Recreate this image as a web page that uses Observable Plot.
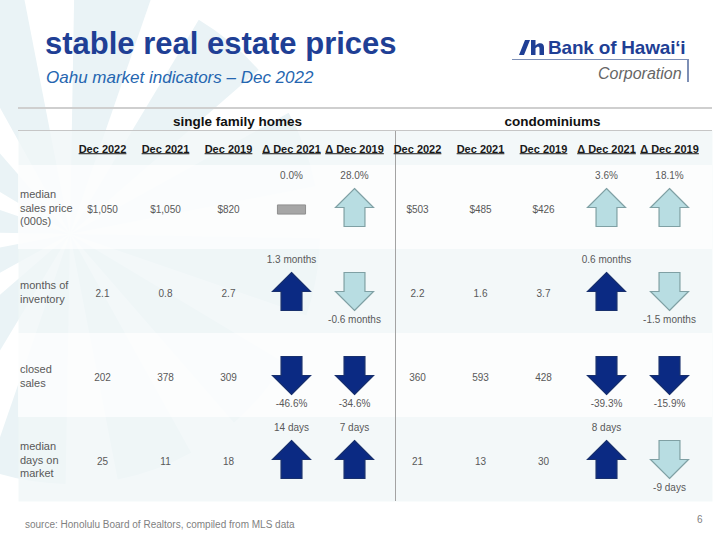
<!DOCTYPE html>
<html>
<head>
<meta charset="utf-8">
<script src="https://cdn.jsdelivr.net/npm/d3@7"></script>
<script src="https://cdn.jsdelivr.net/npm/@observablehq/plot@0.6"></script>
<style>
  body { margin: 0; background: #fff; }
  #slide { position: relative; width: 720px; height: 540px; overflow: hidden; background: #fff;
           font-family: "Liberation Sans", Arial, sans-serif; }
  .abs { position: absolute; white-space: nowrap; line-height: 1; }
  #title { left: 45px; top: 28px; font-size: 31px; font-weight: bold; color: #1f3f95; }
  #subtitle { left: 46px; top: 68.5px; font-size: 17px; font-style: italic; color: #2566b0; }
  #bank { left: 548px; top: 38px; font-size: 19px; font-weight: bold; color: #1f3f95; letter-spacing: -0.2px; }
  #corp { left: 598px; top: 65.5px; font-size: 16px; font-style: italic; color: #666; }
  #logoLineH { left: 512px; top: 59px; width: 176px; height: 1px; background: #7d8fb5; }
  #logoLineV { left: 687px; top: 59px; width: 1.5px; height: 23px; background: #7d8fb5; }
  #rule1 { left: 18px; top: 107px; width: 694px; height: 2px; background: #cfcfcf; z-index: 3; }
  #rule2 { left: 18px; top: 129.5px; width: 694px; height: 1.5px; background: #c6c6c6; z-index: 3; }
  #source { left: 25px; top: 519.5px; font-size: 10px; color: #7f7f7f; }
  #page { left: 697px; top: 515px; font-size: 10px; color: #7f7f7f; }
  #chart { position: absolute; left: 0; top: 100px; z-index: 2; }
  #watermark { position: absolute; left: 0; top: 0; z-index: 0; }
</style>
</head>
<body>
<div id="slide">
  <svg id="watermark" width="720" height="540"><g id="star" fill="#eaf3f6"></g></svg>
  <div class="abs" id="title">stable real estate prices</div>
  <div class="abs" id="subtitle">Oahu market indicators – Dec 2022</div>
  <svg class="abs" style="left:519px;top:39px" width="26" height="17" viewBox="0 0 26 17">
    <polygon points="0,16 5,16 11,1 6,1" fill="#1f3f95"></polygon>
    <path d="M12 1 h4.5 v5.5 c1.5-1.6 3.2-2.2 4.8-2.2 c2.6 0 3.7 1.6 3.7 4.3 v7.4 h-4.5 v-6.6 c0-1.2-0.5-1.7-1.4-1.7 c-1 0-1.9 0.7-2.6 1.6 v6.7 h-4.5 z" fill="#1f3f95"></path>
  </svg>
  <div class="abs" id="bank">Bank of Hawai‘i</div>
  <div class="abs" id="logoLineH"></div>
  <div class="abs" id="logoLineV"></div>
  <div class="abs" id="corp">Corporation</div>
  <div class="abs" id="rule1"></div>
  <div class="abs" id="rule2"></div>
  <div id="chart"></div>
  <div class="abs" id="source">source: Honolulu Board of Realtors, compiled from MLS data</div>
  <div class="abs" id="page">6</div>
</div>
<script>
// ---------------- data ----------------
const groups = ["single family homes", "condominiums"];
const columns = ["Dec 2022", "Dec 2021", "Dec 2019", "Δ Dec 2021", "Δ Dec 2019"];
const rowLabels = ["median\nsales price\n(000s)", "months of\ninventory", "closed\nsales", "median\ndays on\nmarket"];

// levels (rows: price $000s, months of inventory, closed sales, median days on market)
const sfhDec2022 = [1050, 2.1, 202, 25];
const sfhDec2021 = [1050, 0.8, 378, 11];
const sfhDec2019 = [820, 2.7, 309, 18];
const condoDec2022 = [503, 2.2, 360, 21];
const condoDec2021 = [485, 1.6, 593, 13];
const condoDec2019 = [426, 3.7, 428, 30];

// changes
const sfhChgVs2021 = [0.0, 1.3, -46.6, 14];
const sfhChgVs2019 = [28.0, -0.6, -34.6, 7];
const condoChgVs2021 = [3.6, 0.6, -39.3, 8];
const condoChgVs2019 = [18.1, -1.5, -15.9, -9];
const changeUnits = ["%", " months", "%", " days"];
const changeDecimals = [1, 1, 1, 0];
// direction of change that signals a softening market (drawn as dark arrow)
const softeningDirection = [-1, 1, -1, 1];

// ---------------- table build ----------------
const levelFormat = [v => "$" + d3.format(",")(v), d3.format(".1f"), d3.format("d"), d3.format("d")];
const key = (g, c) => g + "|" + c;
const xDomain = groups.flatMap(g => columns.map(c => key(g, c)));
const levelSeries = [[sfhDec2022, sfhDec2021, sfhDec2019], [condoDec2022, condoDec2021, condoDec2019]];
const changeSeries = [[sfhChgVs2021, sfhChgVs2019], [condoChgVs2021, condoChgVs2019]];
const levelCells = [], changeCells = [], headerCells = [];
groups.forEach((g, gi) => {
  columns.forEach(c => headerCells.push({x: key(g, c), text: c}));
  levelSeries[gi].forEach((series, ci) => series.forEach((v, ri) =>
    levelCells.push({x: key(g, columns[ci]), y: rowLabels[ri], text: levelFormat[ri](v)})));
  changeSeries[gi].forEach((series, ci) => series.forEach((v, ri) => {
    const dir = Math.sign(v);
    changeCells.push({
      x: key(g, columns[3 + ci]), y: rowLabels[ri], dir,
      tone: dir === 0 ? "flat" : dir === softeningDirection[ri] ? "dark" : "light",
      text: v.toFixed(changeDecimals[ri]) + changeUnits[ri]
    });
  }));
});
const groupHeaders = groups.map(g => ({x: key(g, columns[2]), text: g}));

// ---------------- symbols ----------------
const arrow = (up) => ({
  draw(ctx, size) {
    const r = Math.sqrt(size / Math.PI), s = 0.55 * r, k = up ? 1 : -1;
    ctx.moveTo(0, -r * k); ctx.lineTo(r, 0); ctx.lineTo(s, 0); ctx.lineTo(s, r * k);
    ctx.lineTo(-s, r * k); ctx.lineTo(-s, 0); ctx.lineTo(-r, 0); ctx.closePath();
  }
});
const flatBar = {
  draw(ctx, size) {
    const r = Math.sqrt(size / Math.PI), w = 0.74 * r, h = 0.24 * r;
    ctx.rect(-w, -h + 2, 2 * w, 2 * h);
  }
};
const DARK = "#0b2a83", DARK_STROKE = "#18306d", LIGHT = "#b8dde2", LIGHT_STROKE = "#7fa0a4";

const chart = Plot.plot({
  width: 720, height: 405,
  marginTop: 65, marginBottom: 4, marginLeft: 18, marginRight: 8,
  style: {background: "transparent", fontFamily: "'Liberation Sans', Arial, sans-serif", fontSize: "10px", overflow: "visible"},
  x: {type: "point", domain: xDomain, range: [102, 669], padding: 0, axis: null},
  y: {type: "band", domain: rowLabels, padding: 0, axis: null},
  marks: [
    Plot.frame({fill: "#f0f6f7", fillOpacity: 0.8, stroke: "none", insetTop: -35}),
    Plot.cell([rowLabels[0], rowLabels[2]], {y: d => d, fill: "white", fillOpacity: 0.7}),
    Plot.ruleX([key(groups[1], columns[0])], {x: d => d, dx: -22, insetTop: -35, stroke: "#a3a3a3", strokeWidth: 1}),
    Plot.text(groupHeaders, {x: "x", text: "text", frameAnchor: "top", lineAnchor: "middle", dy: -44, dx: 9,
      fontSize: 13.5, fontWeight: "bold", fill: "#111"}),
    Plot.text(headerCells, {x: "x", text: "text", frameAnchor: "top", lineAnchor: "middle", dy: -16,
      fontSize: 11, fontWeight: "bold", fill: "#1a1a1a"}),
    Plot.text(rowLabels, {y: d => d, text: d => d, frameAnchor: "left", textAnchor: "start", dx: 1.5,
      lineHeight: 1.23, fontSize: 11, fill: "#595959"}),
    Plot.text(levelCells, {x: "x", y: "y", text: "text", fontSize: 10, fill: "#595959", dy: 2}),
    Plot.dot(changeCells, {filter: d => d.tone === "flat", x: "x", y: "y", symbol: flatBar, r: 19,
      fill: "#a6a6a6", stroke: "#8f8f8f", strokeWidth: 1}),
    Plot.dot(changeCells, {filter: d => d.dir > 0 && d.tone === "dark", x: "x", y: "y", symbol: arrow(true), r: 19,
      fill: DARK, stroke: DARK_STROKE, strokeWidth: 1.2}),
    Plot.dot(changeCells, {filter: d => d.dir < 0 && d.tone === "dark", x: "x", y: "y", symbol: arrow(false), r: 19,
      fill: DARK, stroke: DARK_STROKE, strokeWidth: 1.2}),
    Plot.dot(changeCells, {filter: d => d.dir > 0 && d.tone === "light", x: "x", y: "y", symbol: arrow(true), r: 19,
      fill: LIGHT, stroke: LIGHT_STROKE, strokeWidth: 1.2}),
    Plot.dot(changeCells, {filter: d => d.dir < 0 && d.tone === "light", x: "x", y: "y", symbol: arrow(false), r: 19,
      fill: LIGHT, stroke: LIGHT_STROKE, strokeWidth: 1.2}),
    Plot.text(changeCells, {filter: d => d.dir >= 0, x: "x", y: "y", text: "text", dy: -32, fontSize: 10, fill: "#595959"}),
    Plot.text(changeCells, {filter: d => d.dir < 0, x: "x", y: "y", text: "text", dy: 28, fontSize: 10, fill: "#595959"})
  ]
});
document.getElementById("chart").appendChild(chart);

// underline the column headers (text styling, sized from each rendered label)
const headerSet = new Set(columns);
Array.from(chart.querySelectorAll("text")).filter(t => headerSet.has(t.textContent)).forEach(t => {
  const b = t.getBBox();
  const ln = document.createElementNS("http://www.w3.org/2000/svg", "line");
  ln.setAttribute("x1", b.x); ln.setAttribute("x2", b.x + b.width);
  ln.setAttribute("y1", b.y + b.height - 1.3); ln.setAttribute("y2", b.y + b.height - 1.3);
  ln.setAttribute("stroke", "#1a1a1a"); ln.setAttribute("stroke-width", "1");
  const tr = t.getAttribute("transform");
  if (tr) ln.setAttribute("transform", tr);
  t.parentNode.appendChild(ln);
});

// decorative watermark (pale star-burst in the slide background)
(function () {
  const cx = 70, cy = 234, R = 250, n = 12, half = 9 * Math.PI / 180;
  const g = document.getElementById("star");
  for (let i = 0; i < n; i++) {
    const a = (-80 + i * 30) * Math.PI / 180;
    const p = document.createElementNS("http://www.w3.org/2000/svg", "path");
    p.setAttribute("d", `M${cx},${cy}L${cx + R * Math.cos(a - half)},${cy + R * Math.sin(a - half)}` +
      `A${R},${R} 0 0 1 ${cx + R * Math.cos(a + half)},${cy + R * Math.sin(a + half)}Z`);
    g.appendChild(p);
  }
})();
</script>
</body>
</html>
